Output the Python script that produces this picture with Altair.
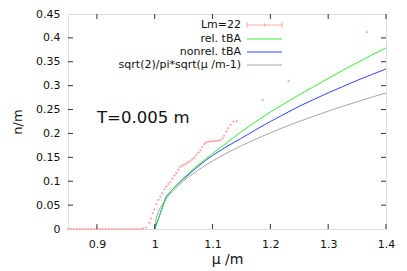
import altair as alt
import pandas as pd

# ---- data ----
MU_PTS = [0.850, 0.855, 0.860, 0.865, 0.870, 0.875, 0.880, 0.885, 0.890, 0.895,
          0.900, 0.905, 0.910, 0.915, 0.920, 0.925, 0.930, 0.935, 0.940, 0.945,
          0.950, 0.955, 0.960, 0.965, 0.970, 0.975, 0.980, 0.985,
          0.9907, 0.9936, 0.9965, 0.9993, 1.0028, 1.0062, 1.0097, 1.0132, 1.0166,
          1.0201, 1.0235, 1.0270, 1.0305, 1.0340, 1.0374, 1.0410, 1.0443, 1.0480,
          1.0510, 1.0547, 1.0580, 1.0616, 1.0650, 1.0685, 1.0720, 1.0754, 1.0790,
          1.0823, 1.0860, 1.0890, 1.0927, 1.0960, 1.0996, 1.1030, 1.1066, 1.1100,
          1.1135, 1.1170, 1.1200, 1.1240, 1.1270, 1.1310, 1.1365, 1.1420,
          1.1867, 1.2317, 1.3670]
N_PTS = [0, 0, 0, 0, 0, 0, 0, 0, 0, 0,
         0, 0, 0, 0, 0, 0, 0, 0, 0, 0,
         0, 0, 0, 0, 0, 0, 0.001, 0.003,
         0.013, 0.022, 0.033, 0.041, 0.052, 0.061, 0.068, 0.075, 0.083,
         0.089, 0.094, 0.098, 0.105, 0.112, 0.117, 0.124, 0.130, 0.133,
         0.135, 0.137, 0.140, 0.142, 0.146, 0.149, 0.155, 0.160, 0.165,
         0.172, 0.178, 0.181, 0.183, 0.183, 0.1835, 0.184, 0.185, 0.185,
         0.186, 0.190, 0.195, 0.204, 0.211, 0.218, 0.225, 0.226,
         0.270, 0.310, 0.412]
ERR = 0.0035

MU_REL = [1.0, 1.02, 1.03, 1.04, 1.05, 1.0625, 1.075, 1.0875, 1.1, 1.125, 1.15, 1.175,
          1.2, 1.225, 1.25, 1.275, 1.3, 1.325, 1.35, 1.375, 1.4]
N_REL = [0.0, 0.068, 0.082, 0.095, 0.107, 0.121, 0.134, 0.146, 0.158, 0.181, 0.204,
         0.225, 0.245, 0.263, 0.281, 0.298, 0.315, 0.332, 0.348, 0.364, 0.379]

MU_NONREL = [1.0, 1.02, 1.03, 1.04, 1.05, 1.0625, 1.075, 1.0875, 1.1, 1.125, 1.15, 1.175,
             1.2, 1.225, 1.25, 1.275, 1.3, 1.325, 1.35, 1.375, 1.4]
N_NONREL = [0.0, 0.068, 0.082, 0.094, 0.105, 0.118, 0.131, 0.143, 0.154, 0.173, 0.190,
            0.208, 0.225, 0.241, 0.257, 0.271, 0.285, 0.298, 0.311, 0.323, 0.335]

MU_SQRT = [1.0, 1.0025, 1.005, 1.0075, 1.01, 1.015, 1.02, 1.03, 1.04, 1.05, 1.06,
           1.08, 1.1, 1.125, 1.15, 1.175, 1.2, 1.225, 1.25, 1.275, 1.3, 1.325,
           1.35, 1.375, 1.4]
N_SQRT = [0.0, 0.0225, 0.0318, 0.0390, 0.045, 0.0551, 0.0637, 0.078, 0.090, 0.1007,
          0.1103, 0.1273, 0.1424, 0.1592, 0.1744, 0.1883, 0.2013, 0.2135, 0.2251,
          0.2361, 0.2466, 0.2566, 0.2663, 0.2757, 0.2847]

XTICKS = [0.9, 1.0, 1.1, 1.2, 1.3, 1.4]
YTICKS = [0, 0.05, 0.1, 0.15, 0.2, 0.25, 0.3, 0.35, 0.4, 0.45]

LEGEND_LABELS = ["Lm=22", "rel. tBA", "nonrel. tBA", "sqrt(2)/pi*sqrt(\u03bc /m-1)"]

RED = "#ff8f8f"
GREEN = "#33ee33"
BLUE = "#3344ff"
GRAY = "#a6a6a6"
FONT = "DejaVu Sans"

W, H = 318, 215

xs = alt.Scale(domain=[0.85, 1.4], nice=False, zero=False)
ys = alt.Scale(domain=[0, 0.45], nice=False, zero=False)

pts = pd.DataFrame({"mu": MU_PTS, "n": N_PTS})
pts["lo"] = pts["mu"] - ERR / 2
pts["hi"] = pts["mu"] + ERR / 2

x_axis = alt.Axis(values=XTICKS, format="~g", labelPadding=9,
                  title="\u03bc /m", titleFontSize=14, titlePadding=3)
y_axis = alt.Axis(values=YTICKS, format="~g", labelPadding=8,
                  title="n/m", titleFontSize=13, titlePadding=11)

base_pts = alt.Chart(pts)
errbars = base_pts.mark_rule(color=RED, strokeWidth=1, opacity=0.6).encode(
    x=alt.X("lo:Q", scale=xs, axis=x_axis), x2="hi:Q",
    y=alt.Y("n:Q", scale=ys, axis=y_axis))
crosses = base_pts.mark_point(shape="M-1,0L1,0M0,-1L0,1", size=6, color=RED,
                              strokeWidth=1, opacity=0.6).encode(
    x=alt.X("mu:Q", scale=xs, axis=x_axis), y=alt.Y("n:Q", scale=ys, axis=y_axis))


def curve(mu, n, color, width=1.0):
    df = pd.DataFrame({"mu": mu, "n": n})
    return alt.Chart(df).mark_line(color=color, strokeWidth=width).encode(
        x=alt.X("mu:Q", scale=xs, axis=x_axis), y=alt.Y("n:Q", scale=ys, axis=y_axis))


sq = curve(MU_SQRT, N_SQRT, GRAY)
nonrel = curve(MU_NONREL, N_NONREL, BLUE)
rel = curve(MU_REL, N_REL, GREEN)

# inward ticks (gnuplot style, mirrored)
xt = alt.Chart(pd.DataFrame({"v": XTICKS}))
yt = alt.Chart(pd.DataFrame({"v": YTICKS[1:-1]}))
tk = dict(color="#333", strokeWidth=1)
ticks = (
    xt.mark_rule(**tk).encode(x=alt.X("v:Q", scale=xs, axis=x_axis), y=alt.value(H), y2=alt.value(H - 5))
    + xt.mark_rule(**tk).encode(x=alt.X("v:Q", scale=xs, axis=x_axis), y=alt.value(0), y2=alt.value(5))
    + yt.mark_rule(**tk).encode(y=alt.Y("v:Q", scale=ys, axis=y_axis), x=alt.value(0), x2=alt.value(5))
    + yt.mark_rule(**tk).encode(y=alt.Y("v:Q", scale=ys, axis=y_axis), x=alt.value(W), x2=alt.value(W - 5))
)

# legend (top-right, gnuplot style)
one = alt.Chart(pd.DataFrame({"a": [0]}))
ROWS = [11, 25, 38, 51]
LX_TEXT, LX0, LX1 = 173, 179, 214
legend = None
for lbl, yy in zip(LEGEND_LABELS, ROWS):
    t = one.mark_text(align="right", baseline="middle", font=FONT, fontSize=11,
                      color="#111").encode(x=alt.value(LX_TEXT), y=alt.value(yy),
                                           text=alt.value(lbl))
    legend = t if legend is None else legend + t
legend += one.mark_rule(color=RED, strokeWidth=1, opacity=0.75).encode(
    x=alt.value(LX0), x2=alt.value(LX1), y=alt.value(ROWS[0]))
legend += one.mark_rule(color=RED, strokeWidth=1, opacity=0.75).encode(
    x=alt.value(LX0), y=alt.value(ROWS[0] - 3), y2=alt.value(ROWS[0] + 3))
legend += one.mark_rule(color=RED, strokeWidth=1, opacity=0.75).encode(
    x=alt.value(LX1), y=alt.value(ROWS[0] - 3), y2=alt.value(ROWS[0] + 3))
legend += one.mark_rule(color=RED, strokeWidth=1, opacity=0.75).encode(
    x=alt.value((LX0 + LX1) / 2), y=alt.value(ROWS[0] - 1.5), y2=alt.value(ROWS[0] + 1.5))
for c, yy in zip([GREEN, BLUE, GRAY], ROWS[1:]):
    legend += one.mark_rule(color=c, strokeWidth=1).encode(
        x=alt.value(LX0), x2=alt.value(LX1), y=alt.value(yy))

label_T = one.mark_text(align="left", baseline="middle", font=FONT, fontSize=16.5,
                        color="#111").encode(x=alt.value(29), y=alt.value(104),
                                             text=alt.value("T=0.005 m"))

chart = alt.layer(errbars, crosses, sq, nonrel, rel, ticks, legend, label_T).properties(
    width=W, height=H,
    padding={"left": 60, "top": 6, "right": 13, "bottom": 42},
    autosize="none",
).configure_view(stroke="#000", strokeWidth=1).configure(
    background="white"
).configure_axis(
    ticks=False, domain=False, grid=False,
    labelFont=FONT, labelFontSize=11, labelColor="#111",
    labelOverlap=False, labelBound=False, labelFlush=False,
    titleFont=FONT, titleFontWeight="normal", titleColor="#111",
)

chart.save("out.html", embed_options={"renderer": "svg", "actions": False})
